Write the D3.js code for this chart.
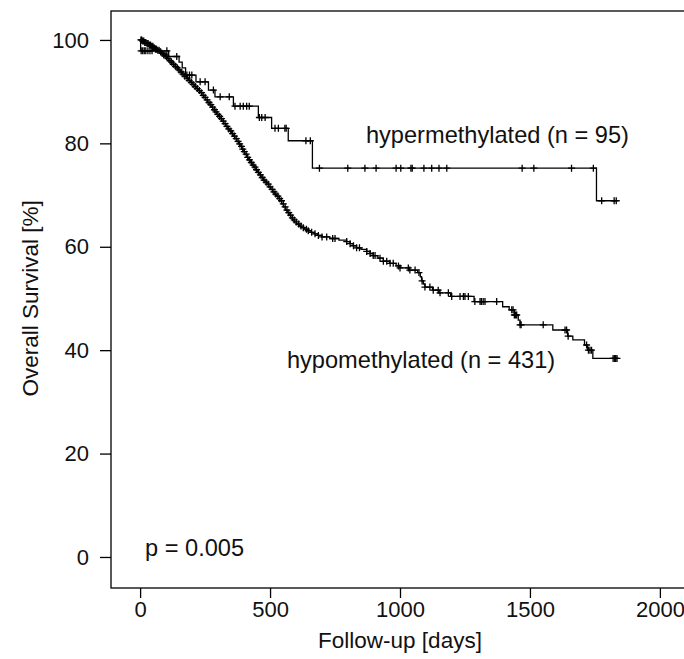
<!DOCTYPE html>
<html>
<head>
<meta charset="UTF-8">
<style>
  body { margin: 0; background: #fff; }
  svg { display: block; }
  .tick text, .label, .note { font-family: 'Liberation Sans', Arial, sans-serif; fill: #111; }
  .tick text { font-size: 22px; }
  .label { font-size: 22.5px; }
  .note { font-size: 23.6px; }
  .curve { fill: none; stroke: #000; stroke-width: 1.3px; }
  .cens { fill: none; stroke: #000; stroke-width: 1.3px; }
</style>
</head>
<body>
<svg id="km" width="684" height="659"></svg>
<script src="https://d3js.org/d3.v7.min.js"></script>
<script>
// hypomethylated group (n = 431): event times (days) and survival (%) after each step
const hypoTime = [0, 8, 15, 25, 33, 42, 50, 58, 66, 74, 82, 90, 98, 105, 112, 120, 127, 134, 141, 148,
  155, 162, 170, 178, 186, 193, 200, 208, 216, 224, 231, 238, 245, 252, 259, 266, 273, 280, 287, 294,
  301, 308, 315, 322, 330, 337, 344, 351, 358, 365, 372, 379, 385, 391, 397, 403, 410, 417, 424, 431,
  438, 445, 452, 459, 466, 474, 481, 488, 495, 503, 510, 517, 524, 531, 538, 545, 552, 559, 566, 573,
  580, 587, 594, 602, 612, 622, 632, 645, 658, 670, 684, 700, 730, 765, 795, 808, 820, 833, 850, 872,
  885, 897, 915, 936, 960, 985, 1000, 1035, 1068, 1078, 1083, 1090, 1096, 1125, 1150, 1195, 1285, 1395,
  1420, 1440, 1455, 1462, 1588, 1645, 1665, 1710, 1722, 1742];
const hypoSurv = [100, 99.8, 99.5, 99.3, 99.0, 98.8, 98.5, 98.2, 98.0, 97.7, 97.4, 97.1, 96.8, 96.4, 96.0, 95.7, 95.3, 94.9, 94.6, 94.2,
  93.8, 93.4, 93.0, 92.6, 92.2, 91.8, 91.4, 91.0, 90.6, 90.2, 89.8, 89.3, 88.9, 88.4, 87.9, 87.5, 87.0, 86.5, 86.1, 85.6,
  85.2, 84.8, 84.3, 83.8, 83.3, 82.8, 82.4, 81.9, 81.4, 80.9, 80.4, 79.9, 79.4, 78.9, 78.4, 77.9, 77.3, 76.8, 76.3, 75.8,
  75.4, 74.9, 74.4, 73.9, 73.4, 72.9, 72.5, 72.1, 71.6, 71.1, 70.6, 70.2, 69.8, 69.3, 68.9, 68.3, 67.7, 67.1, 66.6, 66.1,
  65.6, 65.2, 64.8, 64.4, 64.0, 63.7, 63.4, 63.1, 62.8, 62.5, 62.2, 61.9, 61.6, 61.3, 61.0, 60.6, 60.2, 59.8, 59.5, 59.1,
  58.7, 58.3, 57.8, 57.2, 56.8, 56.3, 55.9, 55.5, 55.0, 54.2, 53.4, 52.8, 52.2, 51.6, 51.1, 50.4, 49.4, 48.4,
  47.8, 46.8, 45.8, 44.9, 43.9, 42.7, 42.0, 41.0, 40.0, 38.4];
const hypoEnd = 1835;
const hypoCensor = [3, 6, 10, 14, 18, 22, 27, 31, 36, 40, 45, 49, 54, 59, 63, 68, 73, 79, 85, 91, 96, 102, 108, 115,
  121, 128, 136, 143, 150, 158, 165, 172, 181, 189, 197, 204, 212, 220, 228, 236, 243, 250, 258, 265, 272, 279,
  286, 292, 299, 306, 313, 320, 327, 334, 341, 349, 356, 363, 370, 377, 383, 390, 395, 401, 408, 414, 421, 428,
  435, 442, 448, 455, 463, 470, 477, 485, 493, 500, 508, 515, 522, 530, 537, 544, 551, 558, 565, 572, 579, 586,
  593, 601, 610, 619, 628, 640, 647, 660, 673, 686, 700, 718, 741, 750, 795, 808, 821, 833, 844, 872, 885, 897,
  904, 923, 936, 949, 962, 974, 994, 1000, 1032, 1038, 1058, 1073, 1085, 1096, 1115, 1128, 1147, 1154, 1186,
  1199, 1231, 1244, 1250, 1263, 1288, 1308, 1313, 1320, 1327, 1372, 1430, 1435, 1440, 1445, 1449, 1462, 1466,
  1551, 1635, 1641, 1647, 1718, 1725, 1731, 1737, 1820, 1826, 1830, 1835];

// hypermethylated group (n = 95)
const hyperTime = [0, 2, 110, 150, 162, 175, 215, 263, 288, 359, 455, 506, 570, 663, 1756];
const hyperSurv = [100, 97.9, 96.8, 95.7, 94.6, 93.2, 91.9, 90.3, 89.0, 87.2, 85.0, 82.9, 80.5, 75.2, 68.9];
const hyperEnd = 1835;
const hyperCensor = [4, 10, 16, 22, 30, 38, 46, 103, 141, 180, 190, 199, 231, 250, 282, 308, 343, 365, 385, 397,
  410, 420, 459, 468, 481, 519, 532, 557, 562, 638, 655, 690, 799, 865, 908, 985, 1003, 1042, 1047, 1092, 1122,
  1150, 1180, 1470, 1515, 1660, 1744, 1776, 1824, 1832];

const xTicks = [0, 500, 1000, 1500, 2000];
const yTicks = [0, 20, 40, 60, 80, 100];

const svg = d3.select("#km");

const x = d3.scaleLinear().domain([-112, 2112]).range([111, 689]);
const y = d3.scaleLinear().domain([-6, 105.6]).range([588, 11]);

// plot box (right side falls outside the window)
svg.append("rect")
  .attr("x", x(-112)).attr("y", y(105.6))
  .attr("width", x(2112) - x(-112)).attr("height", y(-6) - y(105.6))
  .attr("fill", "none").attr("stroke", "#000").attr("stroke-width", 1.3);

// axes
const yAxis = svg.append("g")
  .attr("transform", "translate(" + x(-112) + ",0)")
  .call(d3.axisLeft(y).tickValues(yTicks).tickSize(11).tickPadding(11));
const xAxis = svg.append("g")
  .attr("transform", "translate(0," + y(-6) + ")")
  .call(d3.axisBottom(x).tickValues(xTicks).tickFormat(d3.format("d")).tickSize(10).tickPadding(3));
[xAxis, yAxis].forEach(g => {
  g.select(".domain").remove();
  g.selectAll(".tick line").attr("stroke", "#000").attr("stroke-width", 1.3);
  g.selectAll(".tick text").attr("fill", "#111");
});

// axis titles
svg.append("text").attr("class", "label")
  .attr("x", x(1000)).attr("y", 648)
  .attr("text-anchor", "middle")
  .text("Follow-up [days]");
svg.append("text").attr("class", "label")
  .attr("transform", "translate(38," + y(50) + ") rotate(-90)")
  .attr("text-anchor", "middle")
  .text("Overall Survival [%]");

// step curves + censor marks
function drawGroup(times, surv, end, censor) {
  const pts = times.map((t, i) => [t, surv[i]]);
  pts.push([end, surv[surv.length - 1]]);
  const line = d3.line()
    .x(d => x(d[0]))
    .y(d => y(d[1]))
    .curve(d3.curveStepAfter);
  svg.append("path").attr("class", "curve").attr("d", line(pts));

  const at = t => surv[d3.bisectRight(times, t) - 1];
  const s = 3.5;
  svg.append("g").selectAll("path")
    .data(censor)
    .join("path")
      .attr("class", "cens")
      .attr("d", t => {
        const cx = x(t), cy = y(at(t));
        return "M" + (cx - s) + "," + cy + "H" + (cx + s) + "M" + cx + "," + (cy - s) + "V" + (cy + s);
      });
}
drawGroup(hypoTime, hypoSurv, hypoEnd, hypoCensor);
drawGroup(hyperTime, hyperSurv, hyperEnd, hyperCensor);

// annotations
svg.append("text").attr("class", "note")
  .attr("x", x(869)).attr("y", y(81.6)).attr("dy", "0.35em")
  .text("hypermethylated (n = 95)");
svg.append("text").attr("class", "note")
  .attr("x", x(565)).attr("y", y(38.1)).attr("dy", "0.35em")
  .text("hypomethylated (n = 431)");
svg.append("text").attr("class", "note")
  .attr("x", x(19)).attr("y", y(1.7)).attr("dy", "0.35em")
  .text("p = 0.005");
</script>
</body>
</html>
